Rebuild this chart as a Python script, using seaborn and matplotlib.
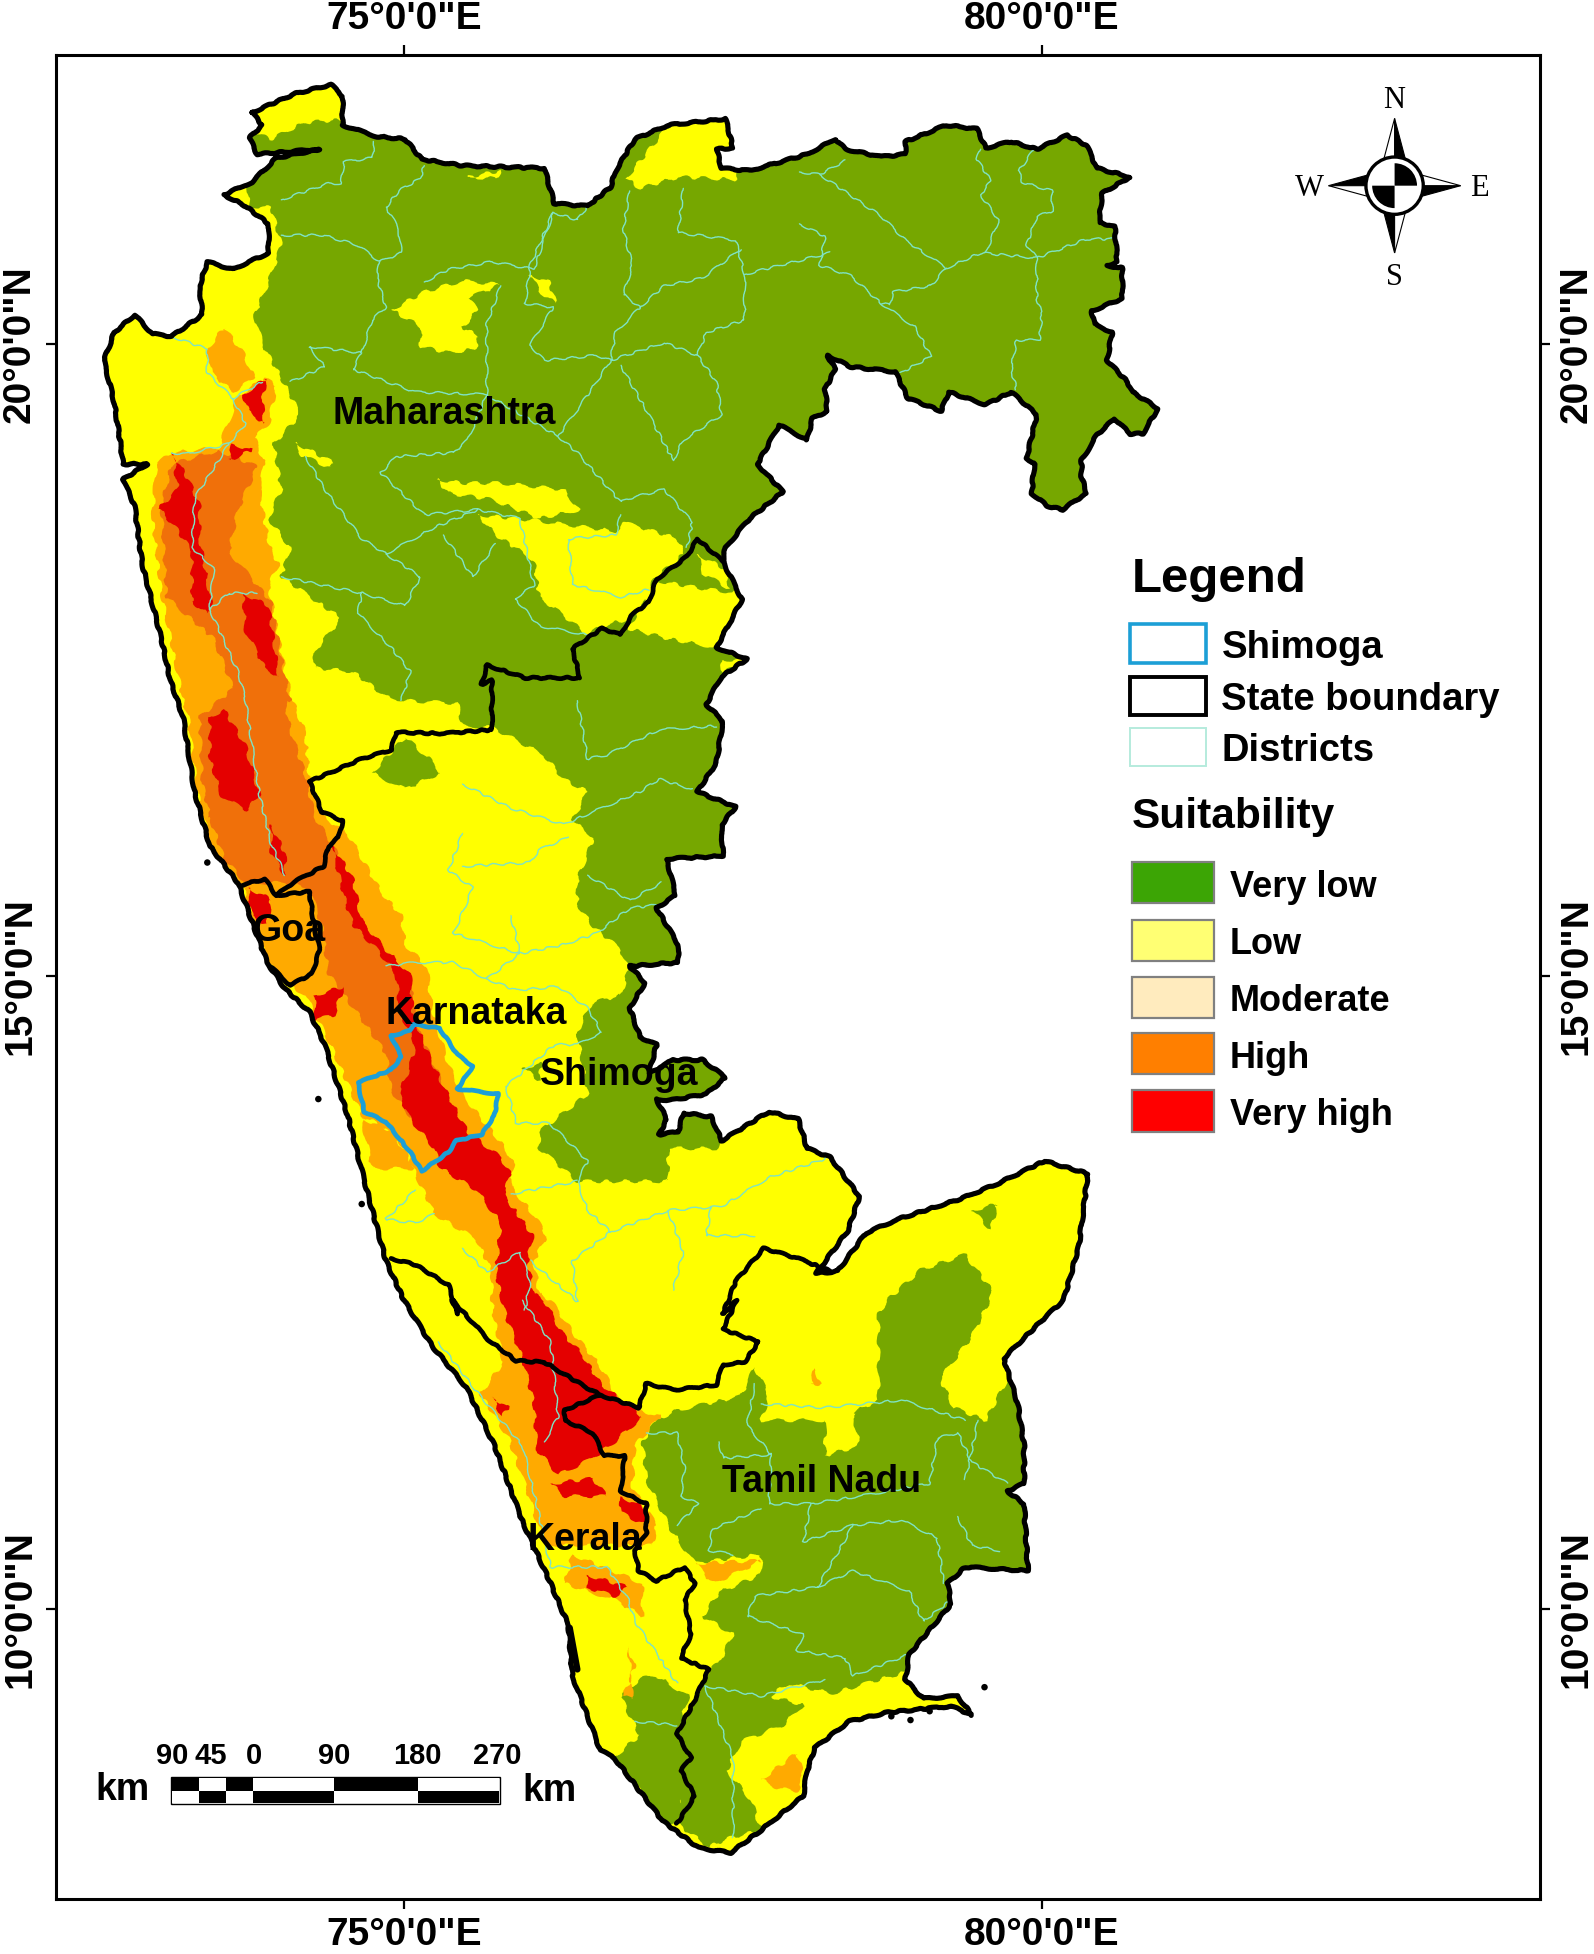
import matplotlib
matplotlib.use("Agg")
import matplotlib.pyplot as plt
from matplotlib.patches import Polygon, Rectangle, Circle, Wedge
import seaborn as sns

sns.set_theme(style="white")
plt.rcParams["font.family"] = ["Liberation Sans", "DejaVu Sans"]
plt.rcParams["text.color"] = "black"
plt.rcParams["xtick.color"] = "black"
plt.rcParams["ytick.color"] = "black"

# ---- outlines as (lon, lat) ----
outer = [(73.81,21.83),(74.15,21.98),(74.43,22.05),(74.52,21.96),(74.52,21.73),(74.79,21.64),(75.01,21.62),(75.14,21.46),
    (75.46,21.41),(76.10,21.39),(76.18,21.11),(76.44,21.09),(76.62,21.24),(76.66,21.37),(76.81,21.62),(77.07,21.73),
    (77.52,21.78),(77.58,21.55),(77.45,21.54),(77.49,21.39),(77.71,21.37),(78.16,21.50),(78.38,21.62),(78.46,21.54),
    (78.74,21.48),(78.93,21.50),(78.93,21.60),(79.25,21.73),(79.49,21.70),(79.56,21.55),(79.76,21.60),(79.96,21.54),
    (80.20,21.65),(80.35,21.57),(80.43,21.39),(80.69,21.32),(80.47,21.19),(80.45,20.96),(80.57,20.93),(80.59,20.65),
    (80.51,20.62),(80.63,20.60),(80.63,20.36),(80.39,20.26),(80.41,20.16),(80.55,20.09),(80.51,19.87),(80.67,19.70),
    (80.71,19.62),(80.91,19.49),(80.79,19.29),(80.69,19.29),(80.57,19.41),(80.43,19.28),(80.31,19.08),(80.31,18.95),
    (80.35,18.82),(80.16,18.69),(80.04,18.72),(79.92,18.82),(79.94,19.05),(79.88,19.10),(79.96,19.44),(79.76,19.62),
    (79.56,19.52),(79.27,19.62),(79.21,19.47),(78.95,19.57),(78.85,19.78),(78.50,19.82),(78.32,19.91),(78.38,19.80),
    (78.30,19.64),(78.32,19.47),(78.20,19.41),(78.16,19.24),(77.94,19.36),(77.86,19.21),(77.77,19.05),(77.97,18.83),
    (77.71,18.62),(77.52,18.39),(77.50,18.28),(77.65,17.98),(77.45,17.60),(77.69,17.51),(77.49,17.37),(77.47,17.34),
    (77.37,17.15),(77.50,17.02),(77.45,16.69),(77.30,16.46),(77.60,16.34),(77.49,16.20),(77.50,15.95),(77.06,15.93),
    (77.13,15.64),(76.98,15.54),(77.15,15.25),(77.15,15.11),(76.77,15.08),(76.89,14.95),(76.77,14.75),(76.85,14.52),
    (76.98,14.46),(76.92,14.23),(77.11,14.34),(77.34,14.34),(77.52,14.20),(77.37,14.07),(77.09,14.02),(76.98,14.03),
    (77.06,13.87),(77.00,13.75),(77.15,13.77),(77.19,13.92),(77.41,13.89),(77.49,13.70),(77.86,13.93),(78.09,13.87),
    (78.16,13.64),(78.34,13.57),(78.57,13.26),(78.48,12.99),(78.23,12.65),(78.40,12.67),(78.62,12.97),(78.87,13.08),
    (79.36,13.24),(79.65,13.36),(80.02,13.54),(80.36,13.44),(80.29,12.87),(80.17,12.44),(80.00,12.28),(79.70,11.98),
    (79.81,11.62),(79.86,11.29),(79.86,10.99),(79.73,10.93),(79.86,10.83),(79.89,10.30),(79.40,10.33),(79.26,10.20),
    (79.29,10.04),(78.96,9.64),(78.93,9.44),(79.07,9.29),(79.34,9.31),(79.45,9.16),(79.29,9.23),(78.79,9.18),
    (78.49,9.11),(78.22,8.90),(78.16,8.72),(78.13,8.52),(77.80,8.25),(77.56,8.07),(77.31,8.11),(77.03,8.32),
    (76.65,8.82),(76.54,8.88),(76.32,9.47),(76.29,9.87),(76.15,10.20),(75.93,10.69),(75.71,11.29),(75.49,11.75),
    (75.22,12.08),(75.00,12.44),(74.86,12.75),(74.71,13.31),(74.56,13.90),(74.38,14.46),(74.26,14.72),(74.07,14.90),
    (73.93,15.11),(73.83,15.38),(73.70,15.74),(73.48,16.03),(73.36,16.46),(73.27,17.05),(73.17,17.34),(73.10,17.67),
    (72.95,18.26),(72.89,18.72),(72.80,18.93),(72.99,19.05),(72.80,19.05),(72.78,19.21),(72.73,19.54),(72.65,19.87),
    (72.73,20.09),(72.89,20.23),(73.03,20.08),(73.18,20.06),(73.42,20.23),(73.40,20.46),(73.46,20.65),(73.66,20.59),
    (73.94,20.72),(73.94,20.95),(73.76,21.09),(73.59,21.18),(73.81,21.28),(74.00,21.47),(74.34,21.54),(73.85,21.50),
    (73.79,21.63),(73.89,21.73),(73.81,21.83)]

maha_karnataka = [(77.50,18.28),(77.30,18.46),(77.22,18.32),(76.98,18.14),(76.92,17.96),(76.78,17.85),(76.70,17.70),(76.55,17.75),
    (76.32,17.59),(76.38,17.36),(75.95,17.36),(75.65,17.46),(75.61,17.31),(75.69,17.34),(75.69,16.95),(75.31,16.92),
    (74.94,16.93),(74.90,16.79),(74.67,16.72),(74.49,16.64),(74.26,16.54),(74.36,16.30),(74.52,16.23),(74.49,16.10),
    (74.41,16.03),(74.37,15.87),(74.13,15.74),(74.00,15.64),(73.91,15.77),(73.72,15.72)]
goa_border = [(74.00,15.64),(74.26,15.67),(74.30,15.38),(74.34,15.21),(74.28,15.02),(74.11,14.93),(73.95,15.08)]
karnataka_kerala = [(74.90,12.77),(75.09,12.72),(75.35,12.56),(75.42,12.33),(75.38,12.44),(75.66,12.13),(75.88,11.96),
    (76.10,11.95),(76.43,11.75),(76.54,11.69)]
karnataka_tn = [(76.54,11.69),(76.84,11.59),(76.90,11.78),(77.12,11.73),(77.45,11.77),(77.50,11.93),(77.67,11.95),(77.78,12.11),
    (77.50,12.21),(77.61,12.44),(77.50,12.33),(77.60,12.59),(77.82,12.85),(78.09,12.77),(78.34,12.67)]
kerala_tn = [(76.54,11.69),(76.26,11.57),(76.26,11.49),(76.48,11.39),(76.57,11.21),(76.73,11.21),(76.70,10.93),(76.90,10.83),
    (76.90,10.60),(76.81,10.46),(76.84,10.30),(76.98,10.22),(77.20,10.33),(77.28,10.20),(77.20,10.07),(77.25,9.80),
    (77.17,9.61),(77.39,9.52),(77.28,9.28),(77.14,9.01),(77.25,8.82),(77.17,8.72),(77.28,8.52),(77.14,8.30)]
lagoon = [(76.30,9.85),(76.36,9.52)]
shimoga = [(74.90,14.53),(75.05,14.57),(75.07,14.62),(75.28,14.59),(75.42,14.38),(75.54,14.29),(75.42,14.11),(75.74,14.07),
    (75.71,13.90),(75.61,13.75),(75.41,13.70),(75.35,13.61),(75.14,13.46),(75.05,13.61),(74.86,13.85),(74.69,13.93),
    (74.64,14.16),(74.90,14.26),(74.98,14.36),(74.90,14.53)]
islands_lon = [73.46,74.33,74.67,79.55,78.82,78.97,79.12]
islands_lat = [15.90,14.03,13.20,9.38,9.15,9.12,9.19]

# ---- suitability zones ----
green_north = [(73.78,21.09),(73.96,21.08),(74.04,20.78),(73.94,20.49),(73.83,20.23),(73.89,20.00),(74.04,19.73),(74.19,19.44),
    (73.98,19.21),(74.04,18.85),(73.94,18.62),(74.11,18.39),(74.04,18.16),(74.51,17.83),(74.30,17.57),(74.30,17.44),
    (74.60,17.41),(74.86,17.21),(75.01,17.18),(75.42,17.16),(75.46,16.98),(75.69,16.97),(76.10,16.75),(76.25,16.56),
    (76.44,16.46),(76.32,16.23),(76.49,16.10),(76.36,15.77),(76.36,15.57),(76.47,15.41),(76.70,15.21),(76.76,15.05),
    (76.70,14.85),(76.47,14.79),(76.36,14.56),(76.44,14.07),(76.06,13.77),(76.06,13.64),(76.36,13.38),(77.07,13.38),
    (77.07,13.64),(77.45,13.64),(77.50,13.74),(77.71,14.07),(82,14.07),(82,22.5),(73.78,22.5)]
green_blob = [(74.75,16.61),(75.01,16.89),(75.20,16.72),(75.29,16.61),(75.01,16.48)]
green_small = [(75.93,14.28),(76.08,14.31),(76.06,14.18)]
green_ne_tn = [(79.45,13.15),(79.65,13.20),(79.60,13.00)]
green_tn = [(76.98,11.49),(76.87,11.32),(76.90,11.02),(77.09,10.63),(77.28,10.36),(77.80,10.43),(77.80,10.27),(77.47,10.13),
    (77.34,9.94),(77.58,9.80),(77.47,9.57),(77.39,9.52),(77.28,9.28),(77.14,9.01),(77.17,8.72),(77.14,8.30),(77.39,8.12),
    (77.56,8.19),(77.80,8.25),(77.72,8.49),(77.53,8.72),(77.64,8.95),(77.97,9.08),(78.13,9.24),(77.86,9.31),(78.02,9.41),
    (78.35,9.33),(78.90,9.49),(79.45,9.80),(80.55,9.80),(80.55,12.28),(80.00,12.28),(79.73,11.82),(79.56,11.49),(79.31,11.59),
    (79.20,11.82),(79.45,12.15),(79.62,12.50),(79.40,12.80),(79.05,12.68),(78.80,12.45),(78.72,12.34),(78.72,11.65),(78.52,11.55),
    (78.57,11.29),(78.30,11.21),(78.30,11.49),(77.80,11.49),(77.86,11.68),(77.75,11.91),(77.64,11.68),(77.14,11.57)]
green_kerala = [(76.65,8.83),(76.85,9.00),(76.70,9.30),(76.85,9.45),(76.98,9.47),(77.23,9.31),(77.14,9.01),(77.25,8.82),(77.14,8.30),(77.03,8.32)]
green_zones = [green_north, green_blob, green_small, green_ne_tn, green_tn, green_kerala]

yellow_zones = [
    [(73.75,21.70),(73.80,21.90),(74.40,22.10),(74.60,22.10),(74.60,21.78),(74.22,21.75),(73.96,21.62)],
    [(76.74,21.31),(77.04,21.68),(77.20,21.85),(77.62,21.85),(77.62,21.30),(77.15,21.32),(76.85,21.23)],
    [(75.50,21.32),(75.76,21.37),(75.72,21.31)],
    [(74.90,20.27),(75.16,20.41),(75.46,20.50),(75.76,20.47),(75.50,20.36),(75.58,20.27),(75.46,20.13),(75.59,20.06),(75.56,19.96),
     (75.35,19.93),(75.13,19.98),(75.13,20.14)],
    [(75.99,20.55),(76.14,20.49),(76.19,20.32),(76.06,20.42)],
    [(75.26,18.93),(75.46,18.90),(75.76,18.90),(76.25,18.85),(76.38,18.69),(76.06,18.62),(75.69,18.77),(75.35,18.82)],
    [(75.58,18.65),(76.06,18.60),(76.66,18.52),(76.72,18.59),(77.15,18.46),(77.19,18.34),(76.96,18.14),(76.89,17.96),(76.74,17.82),
     (76.55,17.77),(76.44,17.70),(76.18,17.91),(76.06,18.00),(76.02,18.29),(75.72,18.49)],
    [(76.97,18.13),(77.37,18.06),(77.64,18.03),(77.65,17.96),(77.45,17.60),(77.07,17.67),(76.76,17.75)],
    [(77.30,18.34),(77.50,18.23),(77.56,18.06),(77.34,18.19)],
    [(77.49,17.50),(77.69,17.51),(77.50,17.40)],
    [(74.15,19.22),(74.45,19.06),(74.43,19.02),(74.20,19.12)],
]

moderate_band = [(73.70,19.59),(73.91,19.73),(74.00,19.67),(73.94,19.36),(73.83,19.26),(73.91,19.05),(73.87,18.85),(73.91,18.59),
    (73.96,18.36),(74.02,18.26),(73.94,18.09),(74.07,17.41),(74.13,17.18),(74.23,16.92),(74.26,16.52),(74.37,16.26),(74.56,16.13),
    (74.82,15.67),(74.98,15.48),(75.01,15.25),(75.18,15.08),(75.22,14.75),(75.35,14.30),(75.46,14.07),(75.61,13.87),(75.72,13.74),
    (75.86,13.54),(75.84,13.34),(76.02,13.11),(76.12,12.95),(76.02,12.75),(76.06,12.49),(76.15,12.44),(76.35,12.15),(76.54,11.92),
    (76.70,11.62),(77.01,11.52),(76.81,11.29),(76.79,10.96),(76.98,10.66),(76.95,10.50),(76.10,10.50),(75.99,10.86),(75.82,11.35),
    (75.60,11.70),(75.78,11.95),(75.71,12.28),(75.69,12.44),(75.69,12.66),(75.57,12.92),(75.24,13.12),(75.09,13.44),(75.01,13.64),
    (74.86,13.80),(74.67,13.90),(74.41,14.49),(74.23,14.85),(74.11,14.93),(73.93,15.11),(73.74,15.70),(73.49,16.03),(73.38,16.46),
    (73.31,17.05),(73.27,17.18),(73.10,18.03),(73.03,18.62),(73.06,19.05),(73.18,19.14),(73.55,19.18)]
moderate_zones = [moderate_band,
    [(73.46,19.96),(73.59,20.13),(73.74,19.93),(73.83,19.73),(73.66,19.62),(73.49,19.77)],
    [(76.32,10.43),(76.87,10.20),(76.87,9.94),(76.65,10.07),(76.26,10.20)],
    [(76.76,9.70),(76.81,9.54),(76.72,9.31),(76.79,9.28)],
    [(74.67,13.88),(74.90,13.78),(75.09,13.48),(74.75,13.48)],
    [(77.80,8.65),(78.08,8.86),(78.13,8.68),(78.08,8.55),(77.91,8.59)],
    [(77.28,10.36),(77.80,10.38),(77.58,10.27),(77.42,10.20)],
    [(78.22,11.90),(78.27,11.78),(78.19,11.77)],
]
high_zones = [
    [(73.48,16.26),(73.59,15.93),(73.76,15.74),(74.07,15.74),(74.26,15.70),(74.36,15.38),(74.41,15.02),(74.67,14.66),(74.86,14.39),
     (74.90,14.10),(75.09,13.84),(75.31,13.64),(75.46,13.80),(75.24,14.30),(75.09,14.62),(75.05,14.98),(74.82,15.25),(74.67,15.41),
     (74.56,15.77),(74.45,16.03),(74.30,16.26),(74.23,16.59),(74.11,16.95),(74.07,17.18),(73.74,17.34),(73.40,17.05),(73.42,16.52)],
    [(73.55,19.16),(73.85,19.03),(73.70,18.69),(73.63,18.36),(73.96,17.96),(74.07,17.37),(74.11,17.18),(73.70,17.18),(73.51,17.67),
     (73.14,18.00),(73.10,18.72),(73.18,19.05)],
]
red_main = [(74.45,16.03),(74.60,15.77),(74.67,15.44),(74.86,15.21),(75.05,15.02),(75.07,14.72),(75.16,14.46),(75.31,14.13),(75.50,13.77),
    (75.76,13.57),(75.84,13.43),(75.78,13.28),(76.01,12.95),(75.97,12.75),(76.02,12.49),(76.10,12.44),(76.24,12.18),(76.40,12.01),
    (76.54,11.78),(76.87,11.52),(76.65,11.32),(76.48,11.19),(76.21,11.06),(76.04,11.26),(76.02,11.62),(75.93,11.98),(75.80,12.31),
    (75.72,12.66),(75.76,13.05),(75.57,13.31),(75.28,13.49),(75.24,13.64),(75.05,13.87),(74.96,14.07),(75.05,14.29),(75.09,14.46),
    (74.97,14.72),(74.94,15.02),(74.79,15.21),(74.60,15.41),(74.54,15.60),(74.45,15.97)]
red_zones = [red_main,
    [(73.48,17.05),(73.59,17.11),(73.76,16.82),(73.87,16.43),(73.76,16.31),(73.57,16.43),(73.48,16.72)],
    [(73.19,19.14),(73.32,18.91),(73.40,18.72),(73.40,18.46),(73.49,17.96),(73.46,17.87),(73.34,17.96),(73.34,18.36),(73.21,18.55),
     (73.08,18.70),(73.23,18.85)],
    [(73.74,18.03),(73.94,17.93),(74.02,17.37),(73.91,17.44),(73.76,17.73)],
    [(73.66,19.21),(73.81,19.16),(73.63,19.08)],
    [(73.74,19.60),(73.92,19.73),(73.89,19.54),(73.91,19.37),(73.78,19.47)],
    [(73.78,15.70),(73.96,15.61),(73.93,15.41),(73.81,15.47)],
    [(74.30,14.85),(74.53,14.92),(74.45,14.69),(74.30,14.66)],
    [(73.96,16.20),(74.07,15.97),(74.07,15.80),(73.96,15.97)],
    [(76.15,10.99),(76.48,11.03),(76.59,10.89),(76.26,10.89)],
    [(76.70,10.89),(76.90,10.79),(76.90,10.66),(76.70,10.76)],
    [(76.43,10.27),(76.76,10.17),(76.65,10.10),(76.43,10.17)],
    [(75.69,11.68),(75.82,11.59),(75.77,11.52)],
]

# ---- district lines ----
districts = [
    [(74.04,21.14),(74.41,21.27),(74.51,21.27),(74.53,21.44),(74.75,21.47),(74.77,21.60)],
    [(74.04,20.86),(74.37,20.86),(74.64,20.78),(74.81,20.65),(74.98,20.72),(74.96,20.91),(74.86,21.08),(74.96,21.21),(75.13,21.31),(75.16,21.41)],
    [(74.81,20.65),(74.79,20.52),(74.86,20.29),(74.75,20.19),(74.67,19.93),(74.26,19.98),(74.38,19.82),(74.11,19.70)],
    [(75.16,20.49),(75.35,20.59),(75.69,20.65),(76.02,20.59),(76.17,21.04),(76.36,20.98),(76.44,21.09)],
    [(75.76,20.46),(75.65,20.16),(75.65,19.60),(75.50,19.24),(75.39,19.14),(74.94,19.11),(74.82,18.98),(75.16,18.65),(75.58,18.69),(75.91,18.62)],
    [(74.67,19.93),(74.60,19.80),(75.09,19.62),(75.65,19.60),(76.14,19.31),(76.21,19.27),(76.36,19.14),(76.70,18.75),(76.77,18.78),(77.04,18.85),(77.26,18.59),(77.22,18.39)],
    [(75.99,19.99),(76.10,19.87),(76.51,19.91),(76.62,19.87),(76.47,19.64),(76.21,19.27)],
    [(76.17,21.04),(75.99,20.62),(75.95,20.32),(76.17,20.29),(75.99,19.99)],
    [(76.77,21.21),(76.72,20.91),(76.79,20.62),(76.72,20.39),(76.85,20.29),(76.66,20.09),(76.62,19.87),(77.04,20.01),(77.30,19.91),(77.45,19.70),(77.49,19.44),(77.19,19.24),(77.11,19.08),(76.92,19.44),(76.70,19.83)],
    [(77.19,21.23),(77.15,20.88),(77.60,20.82),(77.67,20.55),(77.67,20.19),(77.37,20.09),(77.30,19.91)],
    [(76.85,20.29),(77.04,20.46),(77.34,20.52),(77.64,20.75)],
    [(77.67,20.55),(77.94,20.62),(78.34,20.72)],
    [(78.10,21.36),(78.26,21.34),(78.46,21.45)],
    [(78.26,21.34),(78.74,21.01),(78.93,20.82),(79.25,20.60),(79.52,20.72),(79.96,20.68),(80.35,20.83),(80.55,20.83)],
    [(79.52,21.54),(79.49,21.46),(79.60,21.29),(79.52,21.18),(79.66,20.98),(79.56,20.72)],
    [(79.94,21.54),(79.82,21.37),(79.84,21.28),(80.08,21.21),(80.08,21.05),(79.96,21.01),(79.88,20.78),(79.96,20.68),(79.96,20.36),(80.00,20.23),(79.98,20.03),(79.80,20.03),(79.76,19.80),(79.80,19.64)],
    [(78.10,20.95),(78.30,20.85),(78.26,20.62),(78.50,20.54),(78.74,20.32),(79.01,20.13),(79.13,19.90),(78.89,19.77)],
    [(79.25,20.60),(79.13,20.46),(78.83,20.41),(78.81,20.31),(78.74,20.32)],
    [(74.23,19.11),(74.38,18.85),(74.67,18.46),(74.86,18.34),(75.24,18.55),(75.58,18.69)],
    [(74.86,18.34),(75.13,18.16),(75.01,17.93),(74.67,18.03),(74.64,17.87),(74.90,17.60),(75.05,17.41),(74.98,17.18)],
    [(74.04,18.16),(74.67,18.03)],
    [(75.31,18.49),(75.54,18.16),(75.72,18.42)],
    [(75.91,18.62),(76.02,18.09),(75.87,17.99),(76.06,17.77),(76.44,17.70)],
    [(76.70,18.65),(76.66,18.49),(76.29,18.46),(76.32,18.10),(76.70,18.00),(76.92,18.06)],
    [(73.18,20.06),(73.46,19.96),(73.46,19.77),(73.66,19.57),(73.89,19.70)],
    [(73.66,19.57),(73.76,19.37),(73.63,19.21),(73.29,19.13),(73.18,19.14)],
    [(73.63,19.21),(73.36,18.78),(73.34,18.39),(73.51,18.23),(73.48,17.90),(73.63,18.03),(73.85,18.03)],
    [(73.48,17.90),(73.70,17.41),(73.76,17.18),(73.80,16.90),(73.87,16.43),(73.96,16.05),(74.07,15.80)],
    [(75.46,16.52),(75.84,16.33),(76.25,16.20),(76.85,16.46),(77.00,16.56),(77.26,16.48)],
    [(76.36,17.18),(76.44,16.72),(76.59,16.75),(77.00,16.95),(77.45,16.98)],
    [(75.46,16.13),(75.35,15.84),(75.54,15.70),(75.39,15.34),(75.91,15.18),(76.25,15.25),(76.51,15.34),(76.77,15.54),(77.04,15.57)],
    [(75.46,15.87),(75.99,15.90),(76.06,16.00),(76.29,16.10)],
    [(76.44,15.80),(76.77,15.60),(77.02,15.74)],
    [(75.84,15.48),(75.91,15.18),(75.65,14.98),(75.39,15.11),(75.09,15.11),(74.86,15.08)],
    [(75.65,14.98),(75.88,14.89),(76.21,14.92),(76.44,14.75),(76.55,14.56),(76.36,14.46),(76.18,14.46),(75.80,14.13)],
    [(75.80,14.13),(75.88,13.84),(76.14,13.84),(76.44,13.54),(76.36,13.38),(76.44,13.15),(76.62,12.98),(76.32,12.75),(76.36,12.43),(75.99,12.75)],
    [(75.84,13.28),(76.36,13.38)],
    [(76.62,12.98),(77.07,13.15),(77.49,13.18),(77.86,13.41),(78.34,13.57)],
    [(77.07,13.15),(77.19,12.82),(77.11,12.52)],
    [(77.41,13.18),(77.37,12.95),(77.75,12.95)],
    [(75.09,13.31),(74.86,13.08),(75.09,13.05),(75.24,13.12)],
    [(75.46,12.85),(75.65,12.66),(75.91,12.82),(75.99,12.59),(75.95,12.36)],
    [(76.90,11.39),(77.14,11.39),(77.20,11.12),(77.17,10.89),(77.31,10.83),(77.14,10.66)],
    [(77.47,11.32),(77.50,11.19),(77.88,11.22),(77.69,11.45),(77.75,11.78)],
    [(77.88,11.22),(77.86,10.83),(78.19,10.83),(78.57,10.89),(79.12,10.99),(79.18,11.35),(79.34,11.39),(79.45,11.16),(79.73,10.99)],
    [(78.19,10.83),(78.13,10.53),(78.52,10.66),(78.90,10.70),(79.18,10.56),(79.23,10.20)],
    [(77.80,10.79),(77.42,10.63),(77.39,10.46),(77.58,10.43)],
    [(78.52,10.66),(78.41,10.46),(78.24,10.17),(78.52,10.30),(78.96,10.14),(79.07,9.90),(79.29,10.07)],
    [(78.24,10.17),(77.75,10.10),(77.69,9.94),(78.13,9.80),(78.08,9.67),(78.46,9.61),(78.52,9.47),(78.96,9.64)],
    [(77.36,9.39),(77.80,9.31),(78.30,9.44)],
    [(77.80,11.62),(78.30,11.59),(78.90,11.65),(79.40,11.49)],
    [(79.50,11.49),(79.40,11.02)],
    [(79.34,10.73),(79.45,10.50),(79.67,10.46)],
    [(77.36,9.39),(77.58,8.82),(77.58,8.19)],
    [(75.27,12.11),(75.60,11.68),(75.93,11.29),(76.04,10.83),(76.15,10.33),(76.59,10.33),(76.76,10.07),(76.81,9.90),(77.14,9.41)],
    [(76.81,9.11),(77.14,9.08)],
    [(75.93,12.44),(76.15,12.11),(76.21,11.52),(76.10,11.32)],
]

state_names = ["Maharashtra", "Goa", "Karnataka", "Shimoga", "Tamil Nadu", "Kerala"]
state_lon = [75.32, 74.10, 75.57, 76.69, 78.27, 76.42]
state_lat = [19.45, 15.36, 14.70, 14.22, 11.00, 10.54]

lon_ticks = [75, 80]
lon_labels = ['75°0\'0"E', '80°0\'0"E']
lat_ticks = [10, 15, 20]
lat_labels = ['10°0\'0"N', '15°0\'0"N', '20°0\'0"N']

legend_lines = ["Shimoga", "State boundary", "Districts"]
suitability = ["Very low", "Low", "Moderate", "High", "Very high"]
suit_legend_colors = ["#3ca505", "#ffff73", "#ffebbe", "#ff7f00", "#ff0000"]
scale_labels = ["90", "45", "0", "90", "180", "270"]

GREEN = "#76a700"
YELLOW = "#ffff00"
MODERATE = "#ffaa00"
HIGH = "#f0700a"
RED = "#e40000"
DISTRICT = "#7fe3c4"
SHIM_BLUE = "#1c9fd6"


def unzip(pts):
    return [p[0] for p in pts], [p[1] for p in pts]


def line(ax, pts, color, lw, z, rough=None):
    x, y = unzip(pts)
    sns.lineplot(x=x, y=y, sort=False, estimator=None, color=color, linewidth=lw, ax=ax, zorder=z,
                 solid_joinstyle="round", solid_capstyle="round")
    if rough:
        ax.lines[-1].set_sketch_params(*rough)


fig = plt.figure(figsize=(15.94, 19.54), dpi=100)
ax = fig.add_axes([45 / 1279, 1 - 1524 / 1568, (1236 - 45) / 1279, (1524 - 44) / 1568])

# state shape, everything else is clipped to it
base = Polygon(outer, closed=True, facecolor=YELLOW, edgecolor="none", zorder=1)
ax.add_patch(base)

for zones, col, z in [(green_zones, GREEN, 2), (yellow_zones, YELLOW, 3), (moderate_zones, MODERATE, 4),
                      (high_zones, HIGH, 5), (red_zones, RED, 6)]:
    for pts in zones:
        p = Polygon(pts, closed=True, facecolor=col, edgecolor="none", zorder=z)
        p.set_sketch_params(2, 30, 4)
        ax.add_patch(p)
        p.set_clip_path(base)

for d in districts:
    line(ax, d, DISTRICT, 1.0, 7, rough=(1.2, 25, 4))

line(ax, outer, "black", 3.7, 8, rough=(0.8, 25, 4))
for b in [maha_karnataka, goa_border, karnataka_kerala, karnataka_tn, kerala_tn]:
    line(ax, b, "black", 3.4, 8, rough=(0.8, 25, 4))
line(ax, lagoon, "black", 4.5, 8)
line(ax, shimoga, SHIM_BLUE, 3.4, 9, rough=(0.6, 25, 4))
sns.scatterplot(x=islands_lon, y=islands_lat, color="black", s=22, edgecolor="none", ax=ax, zorder=8)

for name, x, y in zip(state_names, state_lon, state_lat):
    ax.text(x, y, name, fontsize=27, fontweight="bold", color="black", ha="center", va="center", zorder=10)

# frame and graticule ticks on all four sides
ax.set_xlim(72.275, 83.906)
ax.set_ylim(7.704, 22.286)
ax.set_xlabel("")
ax.set_ylabel("")
ax.set_xticks(lon_ticks)
ax.set_xticklabels(lon_labels, fontsize=28, fontweight="bold")
ax.set_yticks(lat_ticks)
ax.set_yticklabels(lat_labels, fontsize=28, fontweight="bold", rotation=90, va="center")
ax.tick_params(axis="both", which="major", direction="out", length=7, width=1.6, color="black", pad=6,
               top=True, bottom=True, left=True, right=True, labeltop=True, labelbottom=True,
               labelleft=True, labelright=True)
for s in ax.spines.values():
    s.set_visible(True)
    s.set_color("black")
    s.set_linewidth(2.2)

# overlay in pixel units of the page for legend, compass and scale bar
ov = fig.add_axes([0, 0, 1, 1], facecolor="none")
ov.set_xlim(0, 1279)
ov.set_ylim(1568, 0)
ov.axis("off")

ov.text(908, 465, "Legend", fontsize=35.5, fontweight="bold", va="center")
line_y = [517, 559, 600]
line_cols = [SHIM_BLUE, "black", "#b5ebdd"]
line_w = [2.6, 2.8, 1.4]
for name, y, c, w in zip(legend_lines, line_y, line_cols, line_w):
    ov.add_patch(Rectangle((907, y - 16), 61, 31, facecolor="white", edgecolor=c, linewidth=w))
    ov.text(980, y + 3, name, fontsize=27.5, fontweight="bold", va="center")
ov.text(908, 656, "Suitability", fontsize=30.5, fontweight="bold", va="center")
suit_y = [709, 755, 801, 846, 892]
for name, y, c in zip(suitability, suit_y, suit_legend_colors):
    ov.add_patch(Rectangle((908, y - 17), 66, 33, facecolor=c, edgecolor="#808080", linewidth=1.6))
    ov.text(987, y + 3, name, fontsize=26, fontweight="bold", va="center")

# compass
cx, cy = 1119, 149
for pts, fc in [
    ([(cx, cy - 54), (cx + 9, cy - 20), (cx, cy - 20)], "black"),
    ([(cx, cy - 54), (cx - 9, cy - 20), (cx, cy - 20)], "white"),
    ([(cx, cy + 54), (cx - 9, cy + 20), (cx, cy + 20)], "black"),
    ([(cx, cy + 54), (cx + 9, cy + 20), (cx, cy + 20)], "white"),
    ([(cx - 53, cy), (cx - 20, cy - 9), (cx - 20, cy)], "black"),
    ([(cx - 53, cy), (cx - 20, cy + 9), (cx - 20, cy)], "white"),
    ([(cx + 53, cy), (cx + 20, cy + 9), (cx + 20, cy)], "black"),
    ([(cx + 53, cy), (cx + 20, cy - 9), (cx + 20, cy)], "white"),
]:
    ov.add_patch(Polygon(pts, closed=True, facecolor=fc, edgecolor="black", linewidth=0.8))
ov.add_patch(Circle((cx, cy), 23, facecolor="white", edgecolor="black", linewidth=2.4))
ov.add_patch(Wedge((cx, cy), 18, 270, 360, facecolor="black", edgecolor="none"))
ov.add_patch(Wedge((cx, cy), 18, 90, 180, facecolor="black", edgecolor="none"))
for t, x, y in [("N", 1119, 81), ("S", 1119, 223), ("W", 1051, 151), ("E", 1187, 151)]:
    ov.text(x, y, t, fontsize=22, family="Liberation Serif", ha="center", va="center")

# scale bar
bar_x = [138, 160, 181, 203, 268, 335, 400]
ov.add_patch(Rectangle((137, 1426), 264, 22, facecolor="white", edgecolor="black", linewidth=1))
for i in range(6):
    top_col = "black" if i % 2 == 0 else "white"
    bot_col = "white" if i % 2 == 0 else "black"
    ov.add_patch(Rectangle((bar_x[i], 1427), bar_x[i + 1] - bar_x[i], 10, facecolor=top_col, edgecolor="none"))
    ov.add_patch(Rectangle((bar_x[i], 1437), bar_x[i + 1] - bar_x[i], 10, facecolor=bot_col, edgecolor="none"))
for lab, x in zip(scale_labels, [138, 169, 204, 268, 335, 399]):
    ov.text(x, 1409, lab, fontsize=21, fontweight="bold", ha="center", va="center")
ov.text(98, 1436, "km", fontsize=27, fontweight="bold", ha="center", va="center")
ov.text(441, 1437, "km", fontsize=27, fontweight="bold", ha="center", va="center")

fig.savefig("out.png", dpi=100, facecolor="white")
